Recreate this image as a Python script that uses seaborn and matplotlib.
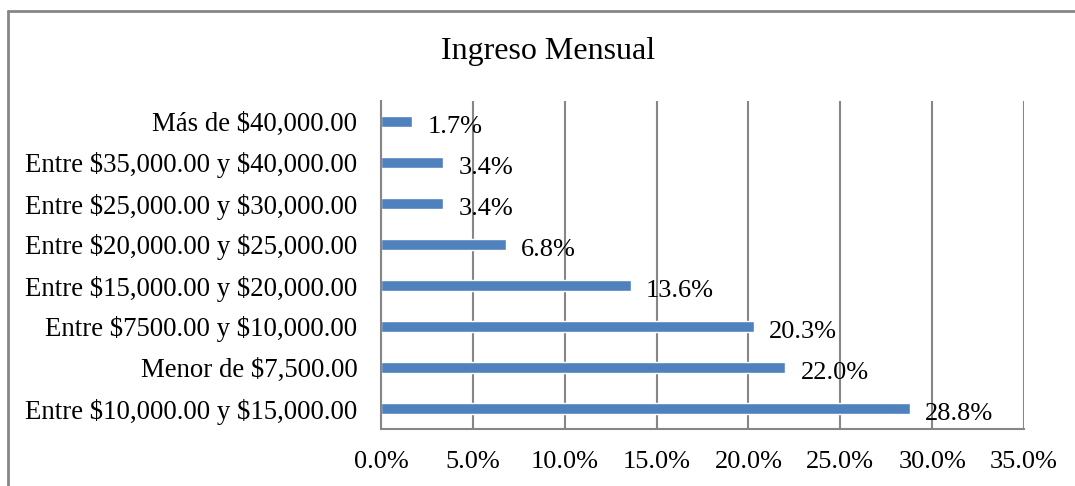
import matplotlib
matplotlib.use("Agg")
import matplotlib.pyplot as plt
from matplotlib.lines import Line2D
import seaborn as sns
import pandas as pd

categorias = [
    "Más de $40,000.00",
    "Entre $35,000.00 y $40,000.00",
    "Entre $25,000.00 y $30,000.00",
    "Entre $20,000.00 y $25,000.00",
    "Entre $15,000.00 y $20,000.00",
    "Entre $7500.00 y $10,000.00",
    "Menor de $7,500.00",
    "Entre $10,000.00 y $15,000.00",
]
porcentajes = [1.7, 3.4, 3.4, 6.8, 13.6, 20.3, 22.0, 28.8]
ticks_x = [0, 5, 10, 15, 20, 25, 30, 35]

df = pd.DataFrame({"cat": categorias, "pct": porcentajes})

sns.set_style("white")
plt.rcParams["font.family"] = ["Liberation Serif", "DejaVu Serif"]
plt.rcParams["text.parse_math"] = False
plt.rcParams["text.color"] = "black"
plt.rcParams["xtick.color"] = "black"
plt.rcParams["ytick.color"] = "black"

gris = "#868686"
fig = plt.figure(figsize=(10.75, 4.86), dpi=100)
ax = fig.add_axes([381 / 1075, 1 - 429 / 486, (1024 - 381) / 1075, (429 - 101) / 486])

sns.barplot(data=df, x="pct", y="cat", order=categorias, orient="h",
            color="#4F81BD", width=0.245, saturation=1, ax=ax)

ax.set_xlim(0, 35)
ax.set_xticks(ticks_x)
ax.set_xticklabels([f"{t:.1f}%" for t in ticks_x])
ax.xaxis.grid(True, color=gris, linewidth=1.5)
ax.set_axisbelow(True)
ax.set_xlabel("")
ax.set_ylabel("")
ax.tick_params(axis="x", length=0, pad=16, labelsize=19, labelcolor="black")
ax.tick_params(axis="y", length=0, pad=17, labelsize=19.3, labelcolor="black")
for s in ["top", "right"]:
    ax.spines[s].set_visible(False)
for s in ["left", "bottom"]:
    ax.spines[s].set_color(gris)
    ax.spines[s].set_linewidth(1.5)

for i, v in enumerate(porcentajes):
    ax.annotate(f"{v:.1f}%", xy=(v, i), xytext=(11, -4), textcoords="offset points",
                ha="left", va="center", fontsize=19, color="black")

fig.text(548 / 1075, 1 - 52 / 486, "Ingreso Mensual", ha="center", va="center",
         fontsize=23, color="black")

# borde del gráfico
fig.add_artist(Line2D([8 / 1075, 8 / 1075], [0, 1 - 11 / 486], color=gris, linewidth=2))
fig.add_artist(Line2D([8 / 1075, 1], [1 - 11 / 486, 1 - 11 / 486], color=gris, linewidth=2))

fig.savefig("out.png", dpi=100)
